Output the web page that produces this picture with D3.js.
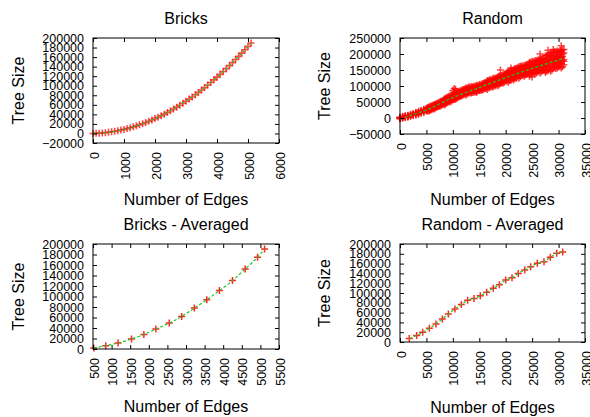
<!DOCTYPE html>
<html>
<head>
<meta charset="utf-8">
<script src="https://cdn.jsdelivr.net/npm/d3@7"></script>
<style>
  body { margin: 0; background: #fff; }
  svg text { font-family: "Liberation Sans", Arial, sans-serif; fill: #000; }
</style>
</head>
<body>
<div id="chart"></div>
<script>
// Bricks: every run, edges vs tree size
const bricksEdges = [0, 100, 200, 300, 400, 500, 600, 700, 800, 900, 1000, 1100, 1200, 1300, 1400, 1500, 1600, 1700,
  1800, 1900, 2000, 2100, 2200, 2300, 2400, 2500, 2600, 2700, 2800, 2900, 3000, 3100, 3200, 3300, 3400, 3500, 3600,
  3700, 3800, 3900, 4000, 4100, 4200, 4300, 4400, 4500, 4600, 4700, 4800, 4900, 5000, 5100];
const bricksSize = [0, 200, 600, 1100, 1700, 2500, 3500, 4500, 5700, 7100, 8500, 10200, 11900, 13800, 15900, 18100,
  20400, 22800, 25400, 28200, 31100, 34100, 37200, 40500, 44000, 47500, 51300, 55100, 59100, 63300, 67500, 72000,
  76500, 81200, 86000, 91000, 96100, 101400, 106800, 112300, 118000, 123800, 129700, 135800, 142100, 148400, 155000,
  161600, 168400, 175300, 182400, 189600];

// Random: edges, then the tree sizes measured at that edge count
const randomRuns = [
  [0, [0, -2400, 2700, -1200, 1500]],
  [500, [2600, -1000, 4100, 500, 5000]],
  [1000, [3700, 5800, 1900, 7000, 3100]],
  [1500, [7200, 4200, 8900, 3300, 6300]],
  [2000, [8000, 5600, 10700, 6800, 9500]],
  [2500, [11100, 7500, 12600, 9000, 13500]],
  [3000, [12500, 16000, 9500, 18000, 11500]],
  [3500, [18000, 13000, 20800, 11500, 16500]],
  [4000, [19000, 15000, 23500, 17000, 21500]],
  [4500, [23000, 17000, 25500, 19500, 27000]],
  [5000, [25000, 28500, 22000, 30500, 24000]],
  [5250, [29000, 22000, 33000, 25000, 31000]],
  [5500, [31300, 24300, 35200, 22200, 29200]],
  [5750, [27000, 34000, 24000, 36500, 31500]],
  [6000, [32000, 26400, 38300, 29200, 35500]],
  [6250, [37000, 29000, 40000, 31500, 35000]],
  [6500, [36900, 28500, 40400, 32000, 42500]],
  [6750, [34000, 41500, 31000, 44000, 38500]],
  [7000, [38300, 43200, 34100, 46000, 36900]],
  [7250, [44000, 36000, 47500, 38500, 42000]],
  [7500, [45800, 38800, 49700, 36700, 43700]],
  [7750, [41500, 49500, 38500, 52000, 46500]],
  [8000, [47000, 41400, 53300, 44200, 50500]],
  [8250, [52000, 42000, 57000, 46000, 50000]],
  [8500, [53000, 41000, 58000, 46000, 61000]],
  [8750, [50000, 59000, 45000, 63000, 55000]],
  [9000, [55000, 62000, 49000, 66000, 53000]],
  [9250, [62000, 51000, 68000, 55000, 59000]],
  [9500, [64000, 54000, 69500, 51000, 61000]],
  [9750, [58000, 68000, 53000, 73000, 64000]],
  [10000, [64000, 56000, 73000, 60000, 69000, 86000]],
  [10250, [70000, 58000, 78000, 62000, 67000, 92000]],
  [10500, [70000, 58000, 75000, 63000, 78000, 90000]],
  [10750, [66000, 76000, 61000, 82000, 72000]],
  [11000, [71000, 78000, 65000, 82000, 69000]],
  [11250, [78000, 67000, 84000, 71000, 75000]],
  [11500, [80000, 70000, 85500, 67000, 77000]],
  [11750, [74000, 83000, 70000, 88000, 80000]],
  [12000, [80000, 72000, 89000, 76000, 85000]],
  [12250, [85000, 74000, 91000, 78000, 82000]],
  [12500, [85200, 72000, 90700, 77500, 94000]],
  [12750, [81000, 90000, 76000, 94000, 86000]],
  [13000, [84900, 92600, 78300, 97000, 82700]],
  [13250, [91000, 79000, 96000, 84000, 88000]],
  [13500, [92400, 81400, 98500, 78100, 89100]],
  [13750, [85000, 94000, 80000, 98000, 90000]],
  [14000, [89000, 80200, 98900, 84600, 94500]],
  [14250, [94000, 82000, 99000, 87000, 91000]],
  [14500, [93200, 80000, 98700, 85500, 102000]],
  [14750, [88000, 97000, 84000, 101000, 94000]],
  [15000, [92400, 100100, 85800, 104500, 90200]],
  [15250, [99000, 87000, 104000, 91000, 96000]],
  [15500, [100900, 89900, 107000, 86600, 97600]],
  [15750, [94000, 104000, 89000, 108000, 100000]],
  [16000, [100000, 91200, 109900, 95600, 105500]],
  [16250, [104000, 92000, 112000, 97000, 108000]],
  [16500, [105800, 89000, 112800, 96000, 117000]],
  [16750, [101000, 113000, 94000, 117000, 106000]],
  [17000, [104600, 114400, 96200, 120000, 101800]],
  [17250, [112000, 99000, 119000, 103000, 108000]],
  [17500, [114600, 100600, 122300, 96400, 110400]],
  [17750, [107000, 120000, 99000, 124000, 113000]],
  [18000, [112000, 100800, 124600, 106400, 119000]],
  [18250, [118000, 103000, 126000, 108000, 114000]],
  [18500, [117800, 101000, 124800, 108000, 129000]],
  [18750, [113000, 127000, 104000, 131000, 119000]],
  [19000, [116600, 126400, 108200, 132000, 113800, 150000]],
  [19250, [125000, 110000, 133000, 114000, 121000]],
  [19500, [127600, 113600, 135300, 109400, 123400]],
  [19750, [120000, 134000, 112000, 137000, 127000]],
  [20000, [126000, 114800, 138600, 120400, 133000]],
  [20250, [130000, 116000, 143000, 121000, 137000]],
  [20500, [132600, 111000, 141600, 120000, 147000]],
  [20750, [127000, 140000, 117000, 146000, 133000]],
  [21000, [129200, 141800, 118400, 149000, 125600, 156000]],
  [21250, [139000, 122000, 148000, 128000, 136000]],
  [21500, [142200, 124200, 152100, 118800, 136800]],
  [21750, [135000, 150000, 124000, 155000, 142000]],
  [22000, [139000, 124600, 155200, 131800, 148000]],
  [22250, [146000, 128000, 157000, 134000, 141000]],
  [22500, [145600, 124000, 154600, 133000, 160000]],
  [22750, [140000, 156000, 129000, 161000, 148000]],
  [23000, [143200, 155800, 132400, 163000, 139600]],
  [23250, [152000, 134000, 162000, 139000, 146000]],
  [23500, [154200, 136200, 164100, 130800, 148800]],
  [23750, [145000, 160000, 134000, 166000, 153000]],
  [24000, [150000, 135600, 166200, 142800, 159000]],
  [24250, [157000, 138000, 169000, 145000, 152000]],
  [24500, [156900, 130500, 167900, 141500, 174500]],
  [24750, [150000, 167000, 136000, 174000, 158000]],
  [25000, [152800, 168200, 139600, 177000, 148400, 128000]],
  [25250, [163000, 141000, 176000, 149000, 157000]],
  [25500, [166800, 144800, 178900, 138200, 160200]],
  [25750, [155000, 173000, 140000, 180000, 163000]],
  [26000, [160500, 142900, 180300, 151700, 171500]],
  [26250, [168000, 146000, 182000, 153000, 162000]],
  [26500, [166900, 140500, 177900, 151500, 184500, 200000]],
  [26750, [159000, 176000, 144000, 185000, 168000]],
  [27000, [161800, 177200, 148600, 186000, 157400]],
  [27250, [172000, 149000, 189000, 157000, 166000]],
  [27500, [178200, 150200, 193600, 141800, 169800]],
  [27750, [164000, 184000, 146000, 196000, 175000]],
  [28000, [171000, 148600, 196200, 159800, 185000, 212000]],
  [28250, [180000, 152000, 199000, 162000, 171000]],
  [28500, [179600, 146000, 193600, 160000, 202000]],
  [28750, [170000, 191000, 150000, 203000, 181000]],
  [29000, [174200, 193800, 157400, 205000, 168600, 214000]],
  [29250, [186000, 158000, 207000, 167000, 178000]],
  [29500, [191200, 163200, 206600, 154800, 182800]],
  [29750, [175000, 197000, 156000, 209000, 188000]],
  [30000, [182000, 159600, 207200, 170800, 196000]],
  [30250, [190000, 161000, 211000, 172000, 183000]],
  [30500, [189600, 156000, 203600, 170000, 212000, 226000]],
  [30750, [179000, 200000, 160000, 213000, 192000]],
  [31000, [183200, 202800, 166400, 214000, 177600]]
];
const randomFitEdges = [0, 2000, 5000, 10000, 14000, 20000, 25000, 31000];
const randomFitSize = [-4000, 8000, 25000, 64000, 89000, 126000, 155000, 186000];

// Averaged runs
const bricksAvgEdges = [520, 842, 1175, 1535, 1867, 2190, 2550, 2884, 3224, 3558, 3898, 4249, 4591, 4923, 5112];
const bricksAvgSize = [2000, 6300, 11400, 19000, 27700, 38000, 49400, 61900, 77900, 93600, 111300, 130300, 152500,
  174700, 190500];
const randomAvgEdges = [1760, 3150, 4290, 5550, 6810, 8010, 9150, 10400, 11600, 12800, 14000, 15190, 16400, 17650,
  18790, 20000, 21190, 22380, 23590, 24720, 25980, 27240, 28440, 29650, 30780];
const randomAvgSize = [7000, 13100, 19900, 28000, 36800, 47100, 57300, 67500, 76600, 85400, 88800, 94200, 101700,
  109900, 116700, 126300, 131000, 140000, 146800, 153500, 160500, 163800, 172800, 181000, 183600];

// Axis ticks
const bricksXTicks = [0, 1000, 2000, 3000, 4000, 5000, 6000];
const bricksYTicks = [-20000, 0, 20000, 40000, 60000, 80000, 100000, 120000, 140000, 160000, 180000, 200000];
const randomXTicks = [0, 5000, 10000, 15000, 20000, 25000, 30000, 35000];
const randomYTicks = [-50000, 0, 50000, 100000, 150000, 200000, 250000];
const bricksAvgXTicks = [500, 1000, 1500, 2000, 2500, 3000, 3500, 4000, 4500, 5000, 5500];
const avgYTicks = [0, 20000, 40000, 60000, 80000, 100000, 120000, 140000, 160000, 180000, 200000];

const w = 590, h = 417;
const red = '#ff0000', green = '#1ec81e';

const svg = d3.select('#chart').append('svg')
  .attr('width', w)
  .attr('height', h);

const plus = 'M-3.5,0H3.5M0,-3.5V3.5';

function drawPanel(p) {
  const [x0, y0, x1, y1] = p.box;
  const x = d3.scaleLinear().domain(p.xDomain).range([x0, x1]);
  const y = d3.scaleLinear().domain(p.yDomain).range([y1, y0]);
  const g = svg.append('g');

  g.append('g').selectAll('path')
    .data(p.points)
    .join('path')
      .attr('d', plus)
      .attr('transform', d => `translate(${x(d[0])},${y(d[1])})`)
      .attr('stroke', red)
      .attr('stroke-width', p.markWidth)
      .attr('stroke-opacity', p.markOpacity)
      .attr('fill', 'none');

  // fit line on top of the points
  const line = d3.line()
    .x(d => x(d[0]))
    .y(d => y(d[1]))
    .curve(d3.curveMonotoneX);
  g.append('path')
    .attr('d', line(p.fit))
    .attr('fill', 'none')
    .attr('stroke', green)
    .attr('stroke-width', 1.2)
    .attr('stroke-dasharray', '3,2');

  // axes, ticks pointing inwards on all four sides
  const fmt = d3.format('d');
  const bottom = g.append('g')
    .attr('transform', `translate(0,${y1})`)
    .call(d3.axisBottom(x).tickValues(p.xTicks).tickSize(-4).tickFormat(fmt));
  bottom.selectAll('text')
    .attr('transform', 'rotate(-90)')
    .attr('text-anchor', 'end')
    .attr('x', -9)
    .attr('y', 0)
    .attr('dy', '0.4em');

  g.append('g')
    .attr('transform', `translate(0,${y0})`)
    .call(d3.axisTop(x).tickValues(p.xTicks).tickSize(-4).tickFormat(''));

  g.append('g')
    .attr('transform', `translate(${x0},0)`)
    .call(d3.axisLeft(y).tickValues(p.yTicks).tickSize(-4).tickPadding(9).tickFormat(fmt));

  g.append('g')
    .attr('transform', `translate(${x1},0)`)
    .call(d3.axisRight(y).tickValues(p.yTicks).tickSize(-4).tickFormat(''));

  g.selectAll('.domain').remove();
  g.selectAll('.tick line').attr('stroke', '#000');
  g.selectAll('.tick text')
    .attr('font-size', 12.5)
    .attr('font-family', '"Liberation Sans", Arial, sans-serif')
    .attr('fill', '#000');

  g.append('rect')
    .attr('x', x0)
    .attr('y', y0)
    .attr('width', x1 - x0)
    .attr('height', y1 - y0)
    .attr('fill', 'none')
    .attr('stroke', '#000')
    .attr('stroke-width', 1);

  g.append('text')
    .attr('x', (x0 + x1) / 2)
    .attr('y', p.titleY)
    .attr('text-anchor', 'middle')
    .attr('font-size', 16)
    .text(p.title);

  g.append('text')
    .attr('x', (x0 + x1) / 2)
    .attr('y', p.xLabelY)
    .attr('text-anchor', 'middle')
    .attr('font-size', 16)
    .text('Number of Edges');

  g.append('text')
    .attr('transform', `translate(${p.yLabelX},${(y0 + y1) / 2}) rotate(-90)`)
    .attr('text-anchor', 'middle')
    .attr('font-size', 16)
    .text('Tree Size');
}

const bricksPoints = bricksEdges.map((e, i) => [e, bricksSize[i]]);
const randomPoints = randomRuns.flatMap(([e, sizes]) => sizes.map(s => [e, s]));
const bricksAvgPoints = bricksAvgEdges.map((e, i) => [e, bricksAvgSize[i]]);
const randomAvgPoints = randomAvgEdges.map((e, i) => [e, randomAvgSize[i]]);

drawPanel({
  title: 'Bricks', box: [93, 38, 279, 143], titleY: 23.5, xLabelY: 204.5, yLabelX: 23.5,
  xDomain: [0, 6000], yDomain: [-20000, 200000], xTicks: bricksXTicks, yTicks: bricksYTicks,
  points: bricksPoints, fit: bricksPoints, markWidth: 1.6, markOpacity: 0.7
});
drawPanel({
  title: 'Random', box: [400, 38, 585, 134], titleY: 23.5, xLabelY: 204.5, yLabelX: 330,
  xDomain: [0, 35000], yDomain: [-50000, 250000], xTicks: randomXTicks, yTicks: randomYTicks,
  points: randomPoints, fit: randomFitEdges.map((e, i) => [e, randomFitSize[i]]), markWidth: 1.5, markOpacity: 0.75
});
drawPanel({
  title: 'Bricks - Averaged', box: [93, 244, 279, 349], titleY: 229.5, xLabelY: 411.5, yLabelX: 23.5,
  xDomain: [500, 5500], yDomain: [0, 200000], xTicks: bricksAvgXTicks, yTicks: avgYTicks,
  points: bricksAvgPoints, fit: bricksAvgPoints, markWidth: 1.5, markOpacity: 0.85
});
drawPanel({
  title: 'Random - Averaged', box: [400, 244, 585, 342], titleY: 229.5, xLabelY: 412.5, yLabelX: 330,
  xDomain: [0, 35000], yDomain: [0, 200000], xTicks: randomXTicks, yTicks: avgYTicks,
  points: randomAvgPoints, fit: randomAvgPoints, markWidth: 1.5, markOpacity: 0.85
});
</script>
</body>
</html>
